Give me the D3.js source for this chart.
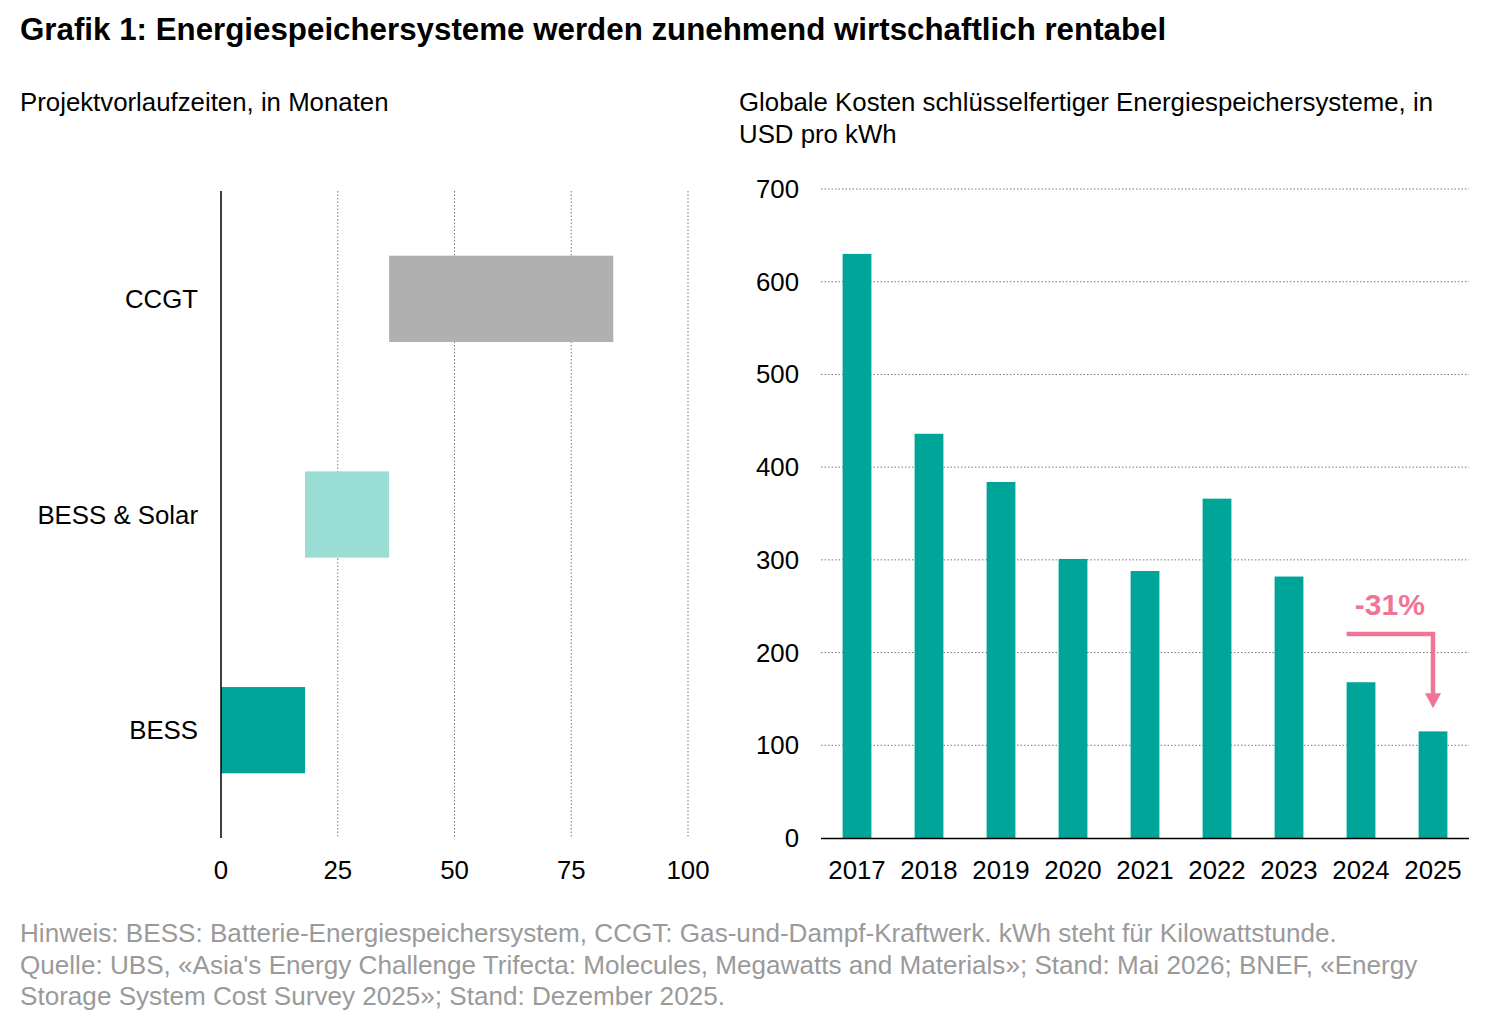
<!DOCTYPE html>
<html>
<head>
<meta charset="utf-8">
<script src="https://cdn.jsdelivr.net/npm/d3@7"></script>
<style>
  body { margin: 0; background: #fff; }
  svg { font-family: "Liberation Sans", Arial, sans-serif; }
</style>
</head>
<body>
<svg id="chart" width="1500" height="1026"></svg>
<script>
// left panel: lead times (months)
const techs = ["CCGT", "BESS & Solar", "BESS"];
const leadStart = [36, 18, 0];
const leadEnd = [84, 36, 18];
const leadTicks = [0, 25, 50, 75, 100];

// right panel: turnkey cost (USD/kWh)
const years = ["2017", "2018", "2019", "2020", "2021", "2022", "2023", "2024", "2025"];
const costs = [630, 436, 384, 301, 288, 366, 282, 168, 115];
const costTicks = [0, 100, 200, 300, 400, 500, 600, 700];

const teal = "#00a599";
const pink = "#f07496";
const fs = "25.8px";

const svg = d3.select("#chart");

svg.append("text")
    .attr("x", 20).attr("y", 40)
    .attr("font-size", "31.3px").attr("font-weight", "bold")
    .text("Grafik 1: Energiespeichersysteme werden zunehmend wirtschaftlich rentabel");

svg.append("text")
    .attr("x", 20).attr("y", 111)
    .attr("font-size", fs)
    .text("Projektvorlaufzeiten, in Monaten");

svg.append("text")
    .attr("x", 739).attr("y", 111)
    .attr("font-size", fs)
    .text("Globale Kosten schlüsselfertiger Energiespeichersysteme, in");
svg.append("text")
    .attr("x", 739).attr("y", 143)
    .attr("font-size", fs)
    .text("USD pro kWh");

// ---- left chart
const x1 = d3.scaleLinear().domain([0, 100]).range([221, 688]);
const y1 = d3.scalePoint().domain(techs).range([191, 838]).padding(0.5);
const barH = y1.step() * 0.4;

svg.append("g").selectAll("line")
    .data(leadTicks.slice(1))
    .enter().append("line")
        .attr("x1", d => x1(d)).attr("x2", d => x1(d))
        .attr("y1", 191).attr("y2", 838)
        .attr("stroke", "#777").attr("stroke-width", 1)
        .attr("stroke-dasharray", "1.5,2");

const leftColors = ["#b0b0b0", "#99ddd5", teal];
svg.append("g").selectAll("rect")
    .data(techs)
    .enter().append("rect")
        .attr("x", (d, i) => x1(leadStart[i]))
        .attr("width", (d, i) => x1(leadEnd[i]) - x1(leadStart[i]))
        .attr("y", d => y1(d) - barH / 2)
        .attr("height", barH)
        .attr("fill", (d, i) => leftColors[i]);

svg.append("line")
    .attr("x1", 221).attr("x2", 221)
    .attr("y1", 191).attr("y2", 838)
    .attr("stroke", "#000").attr("stroke-width", 1.5);

svg.append("g").selectAll("text")
    .data(techs)
    .enter().append("text")
        .attr("x", 198)
        .attr("y", d => y1(d) + 9)
        .attr("text-anchor", "end")
        .attr("font-size", fs)
        .text(d => d);

svg.append("g").selectAll("text")
    .data(leadTicks)
    .enter().append("text")
        .attr("x", d => x1(d))
        .attr("y", 879)
        .attr("text-anchor", "middle")
        .attr("font-size", fs)
        .text(d => d);

// ---- right chart
const x2 = d3.scaleBand().domain(years).range([821, 1469]).paddingInner(0.6).paddingOuter(0.3);
const y2 = d3.scaleLinear().domain([0, 700]).range([838, 189]);

svg.append("g").selectAll("line")
    .data(costTicks.slice(1))
    .enter().append("line")
        .attr("x1", 821).attr("x2", 1469)
        .attr("y1", d => y2(d)).attr("y2", d => y2(d))
        .attr("stroke", "#777").attr("stroke-width", 1)
        .attr("stroke-dasharray", "1.5,2");

svg.append("g").selectAll("rect")
    .data(years)
    .enter().append("rect")
        .attr("x", d => x2(d))
        .attr("width", x2.bandwidth())
        .attr("y", (d, i) => y2(costs[i]))
        .attr("height", (d, i) => y2(0) - y2(costs[i]))
        .attr("fill", teal);

svg.append("line")
    .attr("x1", 821).attr("x2", 1469)
    .attr("y1", 838.5).attr("y2", 838.5)
    .attr("stroke", "#000").attr("stroke-width", 1.5);

svg.append("g").selectAll("text")
    .data(costTicks)
    .enter().append("text")
        .attr("x", 799)
        .attr("y", d => y2(d) + 9)
        .attr("text-anchor", "end")
        .attr("font-size", fs)
        .text(d => d);

svg.append("g").selectAll("text")
    .data(years)
    .enter().append("text")
        .attr("x", d => x2(d) + x2.bandwidth() / 2)
        .attr("y", 879)
        .attr("text-anchor", "middle")
        .attr("font-size", fs)
        .text(d => d);

// -31% annotation
const aX0 = x2("2024");
const aX1 = x2("2025") + x2.bandwidth() / 2;
const aY = y2(220);
svg.append("path")
    .attr("d", `M${aX0},${aY}H${aX1}V${y2(152)}`)
    .attr("fill", "none").attr("stroke", pink).attr("stroke-width", 4.5);
svg.append("path")
    .attr("d", `M${aX1 - 8},${y2(156)}L${aX1 + 8},${y2(156)}L${aX1},${y2(140)}Z`)
    .attr("fill", pink);
svg.append("text")
    .attr("x", (aX0 + aX1) / 2)
    .attr("y", aY - 19)
    .attr("text-anchor", "middle")
    .attr("font-size", "30px").attr("font-weight", "bold")
    .attr("fill", pink)
    .text("-31%");

// footnote
const notes = [
    "Hinweis: BESS: Batterie-Energiespeichersystem, CCGT: Gas-und-Dampf-Kraftwerk. kWh steht für Kilowattstunde.",
    "Quelle: UBS, «Asia's Energy Challenge Trifecta: Molecules, Megawatts and Materials»; Stand: Mai 2026; BNEF, «Energy",
    "Storage System Cost Survey 2025»; Stand: Dezember 2025."
];
svg.append("g").selectAll("text")
    .data(notes)
    .enter().append("text")
        .attr("x", 20)
        .attr("y", (d, i) => 942 + i * 31.5)
        .attr("font-size", "26.1px")
        .attr("fill", "#9a9a9a")
        .text(d => d);
</script>
</body>
</html>
